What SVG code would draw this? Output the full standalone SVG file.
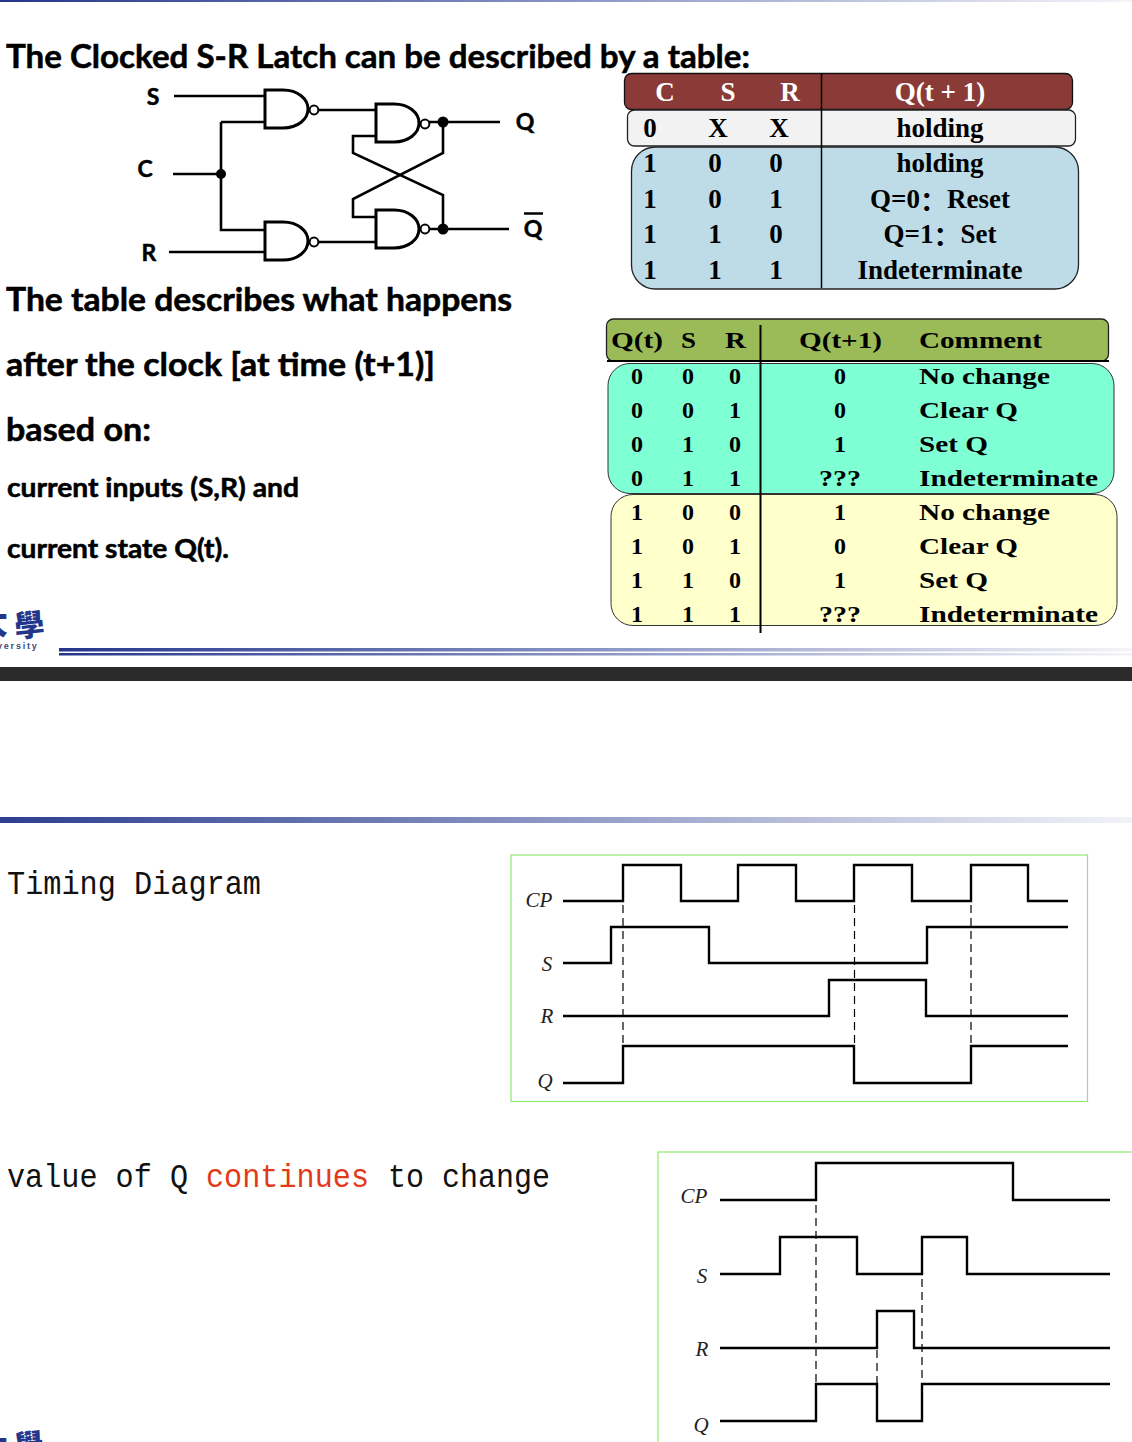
<svg xmlns="http://www.w3.org/2000/svg" width="1132" height="1442" viewBox="0 0 1132 1442">
<style>
.h{font-family:"Lato","Liberation Sans",sans-serif;font-weight:700;fill:#000;stroke:#000;stroke-width:.55}
.t{font-family:"Liberation Serif","Noto Sans CJK SC",serif;font-weight:700;fill:#000;font-size:27px;text-anchor:middle}
.u{font-family:"Liberation Serif",serif;font-weight:700;fill:#000;font-size:24px}
.m{font-family:"Liberation Mono",monospace;font-size:33px;fill:#111}
.w{stroke:#000;stroke-width:2.6;fill:none}
.g{stroke:#000;stroke-width:3;fill:#fff}
.b{stroke:#000;stroke-width:2;fill:#fff}
.s{stroke:#000;stroke-width:2.4;fill:none}
.d{stroke:#000;stroke-width:1.2;fill:none;stroke-dasharray:8 5}
.l{font-family:"Liberation Serif",serif;font-style:italic;font-size:21px;fill:#222;text-anchor:middle}
.c{font-family:"Lato","Liberation Sans",sans-serif;font-weight:700;font-size:23px;fill:#000;stroke:#000;stroke-width:.5;text-anchor:middle}
</style>
<defs>
<linearGradient id="fade"><stop offset="0" stop-color="#24368c"/><stop offset=".5" stop-color="#8a94c4"/><stop offset="1" stop-color="#f4f4f8"/></linearGradient>
<linearGradient id="fade2"><stop offset="0" stop-color="#2c3f8f"/><stop offset=".55" stop-color="#9aa3cb"/><stop offset="1" stop-color="#f2f3f8"/></linearGradient>
<path id="nand" d="M0 0H18C33 0 43 9 43 19S33 38 18 38H0Z"/>
</defs>
<rect width="1132" height="1442" fill="#fff"/>

<g id="bars">
<rect x="0" y="0" width="1132" height="2" fill="url(#fade)"/>
<rect x="59" y="648" width="1073" height="3.500" fill="url(#fade)"/>
<rect x="59" y="653" width="1073" height="2.500" fill="url(#fade)"/>
<rect x="0" y="667" width="1132" height="14" fill="#2b2b2b"/>
<rect x="0" y="817" width="1132" height="6" fill="url(#fade2)"/>
</g>

<g id="logos" fill="#24368c">
<text x="-26" y="634" font-family="'Noto Sans CJK SC',sans-serif" font-weight="900" font-size="34">大</text>
<text x="14" y="636" font-family="'Noto Sans CJK TC',sans-serif" font-weight="900" font-size="30" transform="rotate(-6 30 622)">學</text>
<text x="-3" y="649" font-family="'Liberation Sans',sans-serif" font-weight="700" font-size="9" letter-spacing="1.800" fill="#3b4a80">versity</text>
<text x="14" y="1456" font-family="'Noto Sans CJK TC',sans-serif" font-weight="900" font-size="30" transform="rotate(-6 30 1445)">學</text>
<text x="-26" y="1458" font-family="'Noto Sans CJK SC',sans-serif" font-weight="900" font-size="34">大</text>
</g>

<g id="text-left">
<text class="h" x="6" y="68" font-size="33" textLength="744" lengthAdjust="spacingAndGlyphs">The Clocked S-R Latch can be described by a table:</text>
<text class="h" x="6" y="311" font-size="33" textLength="506" lengthAdjust="spacingAndGlyphs">The table describes what happens</text>
<text class="h" x="6" y="376" font-size="33" textLength="429" lengthAdjust="spacingAndGlyphs">after the clock [at time (t+1)]</text>
<text class="h" x="6" y="441" font-size="33" textLength="145" lengthAdjust="spacingAndGlyphs">based on:</text>
<text class="h" x="7" y="497" font-size="27" textLength="292" lengthAdjust="spacingAndGlyphs">current inputs (S,R) and</text>
<text class="h" x="7" y="558" font-size="27" textLength="222" lengthAdjust="spacingAndGlyphs">current state Q(t).</text>
<text class="m" x="7" y="894" textLength="254" lengthAdjust="spacingAndGlyphs">Timing Diagram</text>
<text class="m" x="7" y="1187" textLength="181" lengthAdjust="spacingAndGlyphs">value of Q</text>
<text class="m" x="206" y="1187" textLength="163" lengthAdjust="spacingAndGlyphs" style="fill:#e23b1b">continues</text>
<text class="m" x="388" y="1187" textLength="162" lengthAdjust="spacingAndGlyphs">to change</text>
</g>

<g id="connectors">
<path class="w" d="M174 96H265M221 122H265M173 174H221M221 122V230H265M169 252H265"/>
<path class="w" d="M319 110H376M319 242H376"/>
<path class="w" d="M429 122H500M429 229H509"/>
<path class="w" d="M376 136H353V153L443 195V229"/>
<path class="w" d="M443 122V153L353 199V217H376"/>
<circle cx="221" cy="174" r="5" fill="#000"/>
<circle cx="443" cy="122" r="5.500" fill="#000"/>
<circle cx="443" cy="229" r="5.500" fill="#000"/>
</g>
<g id="gate-s"><use href="#nand" x="265" y="90" class="g"/><circle cx="314" cy="110" r="4.400" class="b"/></g>
<g id="gate-r"><use href="#nand" x="265" y="222" class="g"/><circle cx="314" cy="242" r="4.400" class="b"/></g>
<g id="gate-q"><use href="#nand" x="376" y="104" class="g"/><circle cx="425" cy="124" r="4.400" class="b"/></g>
<g id="gate-qbar"><use href="#nand" x="376" y="210" class="g"/><circle cx="425" cy="229" r="4.400" class="b"/></g>
<g id="latch-labels">
<text class="c" x="153" y="105">S</text>
<text class="c" x="145" y="177">C</text>
<text class="c" x="149" y="261">R</text>
<text class="c" x="525" y="130">Q</text>
<text class="c" x="533" y="237">Q</text>
<path d="M524 213.500H543" stroke="#000" stroke-width="2.500"/>
</g>

<g id="table-1">
<rect x="624.500" y="73.500" width="448" height="36" rx="7" fill="#8a3b38" stroke="#111" stroke-width="1.300"/>
<rect x="627.500" y="110" width="448" height="36" rx="7" fill="#f2f2f2" stroke="#222" stroke-width="1.300"/>
<rect x="631.500" y="147" width="447" height="142" rx="24" fill="#bddce8" stroke="#222" stroke-width="1.300"/>
<path d="M821.500 73V288" stroke="#000" stroke-width="1.500"/>
<text class="t" x="665" y="101" style="fill:#fff">C</text><text class="t" x="728" y="101" style="fill:#fff">S</text><text class="t" x="790" y="101" style="fill:#fff">R</text><text class="t" x="940" y="101" style="fill:#fff">Q(t + 1)</text>
<text class="t" x="650" y="137">0</text><text class="t" x="718" y="137">X</text><text class="t" x="779" y="137">X</text><text class="t" x="940" y="137">holding</text>
<text class="t" x="650" y="172">1</text><text class="t" x="715" y="172">0</text><text class="t" x="776" y="172">0</text><text class="t" x="940" y="172">holding</text>
<text class="t" x="650" y="208">1</text><text class="t" x="715" y="208">0</text><text class="t" x="776" y="208">1</text><text class="t" x="940" y="208">Q=0<tspan dy="3">：</tspan><tspan dy="-3">Reset</tspan></text>
<text class="t" x="650" y="243">1</text><text class="t" x="715" y="243">1</text><text class="t" x="776" y="243">0</text><text class="t" x="940" y="243">Q=1<tspan dy="3">：</tspan><tspan dy="-3">Set</tspan></text>
<text class="t" x="650" y="279">1</text><text class="t" x="715" y="279">1</text><text class="t" x="776" y="279">1</text><text class="t" x="940" y="279">Indeterminate</text>
</g>

<g id="table-2">
<rect x="606.500" y="319" width="502" height="42" rx="7" fill="#9bbb59" stroke="#222" stroke-width="1.300"/>
<path d="M607 361H1109" stroke="#000" stroke-width="2"/>
<rect x="608" y="363.500" width="506" height="130" rx="22" fill="#7fffd4" stroke="#333" stroke-width="1"/>
<rect x="611" y="494.500" width="506" height="131" rx="22" fill="#ffffcc" stroke="#333" stroke-width="1"/>
<path d="M760.500 325V633" stroke="#000" stroke-width="2"/>
<text class="u" x="611" y="348" textLength="52" lengthAdjust="spacingAndGlyphs">Q(t)</text>
<text class="u" x="681" y="348" textLength="15" lengthAdjust="spacingAndGlyphs">S</text>
<text class="u" x="725" y="348" textLength="21" lengthAdjust="spacingAndGlyphs">R</text>
<text class="u" x="799" y="348" textLength="83" lengthAdjust="spacingAndGlyphs">Q(t+1)</text>
<text class="u" x="919" y="348" textLength="123" lengthAdjust="spacingAndGlyphs">Comment</text>

<text class="u" x="631" y="384">0</text><text class="u" x="682" y="384">0</text><text class="u" x="729" y="384">0</text><text class="u" x="834" y="384">0</text><text class="u" x="919" y="384" textLength="131" lengthAdjust="spacingAndGlyphs">No change</text>
<text class="u" x="631" y="418">0</text><text class="u" x="682" y="418">0</text><text class="u" x="729" y="418">1</text><text class="u" x="834" y="418">0</text><text class="u" x="919" y="418" textLength="99" lengthAdjust="spacingAndGlyphs">Clear Q</text>
<text class="u" x="631" y="452">0</text><text class="u" x="682" y="452">1</text><text class="u" x="729" y="452">0</text><text class="u" x="834" y="452">1</text><text class="u" x="919" y="452" textLength="69" lengthAdjust="spacingAndGlyphs">Set Q</text>
<text class="u" x="631" y="486">0</text><text class="u" x="682" y="486">1</text><text class="u" x="729" y="486">1</text><text class="u" x="819" y="486" textLength="42" lengthAdjust="spacingAndGlyphs">???</text><text class="u" x="919" y="486" textLength="179" lengthAdjust="spacingAndGlyphs">Indeterminate</text>
<text class="u" x="631" y="520">1</text><text class="u" x="682" y="520">0</text><text class="u" x="729" y="520">0</text><text class="u" x="834" y="520">1</text><text class="u" x="919" y="520" textLength="131" lengthAdjust="spacingAndGlyphs">No change</text>
<text class="u" x="631" y="554">1</text><text class="u" x="682" y="554">0</text><text class="u" x="729" y="554">1</text><text class="u" x="834" y="554">0</text><text class="u" x="919" y="554" textLength="99" lengthAdjust="spacingAndGlyphs">Clear Q</text>
<text class="u" x="631" y="588">1</text><text class="u" x="682" y="588">1</text><text class="u" x="729" y="588">0</text><text class="u" x="834" y="588">1</text><text class="u" x="919" y="588" textLength="69" lengthAdjust="spacingAndGlyphs">Set Q</text>
<text class="u" x="631" y="622">1</text><text class="u" x="682" y="622">1</text><text class="u" x="729" y="622">1</text><text class="u" x="819" y="622" textLength="42" lengthAdjust="spacingAndGlyphs">???</text><text class="u" x="919" y="622" textLength="179" lengthAdjust="spacingAndGlyphs">Indeterminate</text>
</g>

<g id="timing-1">
<rect x="511" y="855" width="576.500" height="246.500" fill="#fff" stroke="#8fe86f" stroke-width="1.200"/>
<path class="s" d="M563 901H623V865H681V901H738V865H796V901H854V865H912V901H971V865H1028V901H1068"/>
<path class="s" d="M563 963H611V927H709V963H927V927H1068"/>
<path class="s" d="M563 1016H829V980H926V1016H1068"/>
<path class="s" d="M563 1083H623V1046H854V1083H971V1046H1068"/>
<path class="d" d="M623 905V1046M854.500 905V1046M971 905V1046"/>
<text class="l" x="539" y="907">CP</text><text class="l" x="547" y="971">S</text><text class="l" x="547" y="1023">R</text><text class="l" x="545" y="1088">Q</text>
</g>

<g id="timing-2">
<rect x="658" y="1152" width="490" height="310" fill="#fff" stroke="#8fe86f" stroke-width="1.200"/>
<path class="s" d="M720 1200H816V1163H1013V1200H1110"/>
<path class="s" d="M720 1274H780V1237H857V1274H922V1237H967V1274H1110"/>
<path class="s" d="M720 1348H877V1311H914V1348H1110"/>
<path class="s" d="M720 1421H816V1384H877V1421H922V1384H1110"/>
<path class="d" d="M816 1205V1384M922 1240V1384M877 1350V1384"/>
<text class="l" x="694" y="1203">CP</text><text class="l" x="702" y="1283">S</text><text class="l" x="702" y="1356">R</text><text class="l" x="701" y="1432">Q</text>
</g>
</svg>
